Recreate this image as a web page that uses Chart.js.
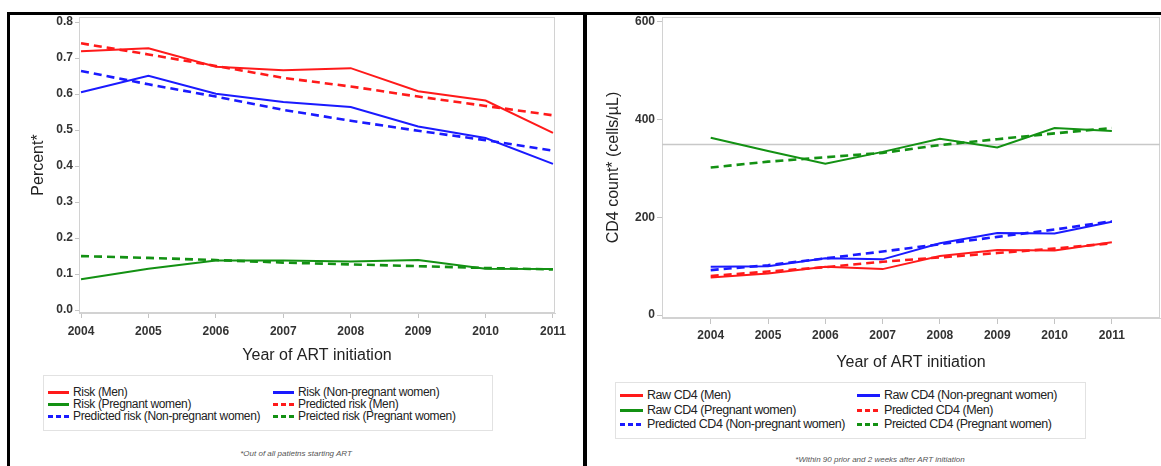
<!DOCTYPE html>
<html>
<head>
<meta charset="utf-8">
<title>ART initiation by year</title>
<script src="https://cdn.jsdelivr.net/npm/chart.js@4"></script>
<style>
body { margin: 0; background: #fff; font-family: "Liberation Sans", Arial, sans-serif; }
#page { position: relative; width: 1161px; height: 466px; overflow: hidden; background: #fff; }
.panel { position: absolute; top: 12px; height: 460px; border-top: 3px solid #000; box-sizing: border-box; }
#panelLeft { left: 7px; width: 578px; border-left: 3px solid #000; }
#panelRight { left: 583px; width: 578px; border-left: 4px solid #000; }
canvas { position: absolute; }
#riskChart { left: 10px; top: 15px; }
#cd4Chart { left: 588px; top: 15px; }
.legend { position: absolute; border: 1px solid #e2e2e2; box-sizing: border-box; color: #222; }
.legend .item { position: absolute; white-space: nowrap; line-height: 14px; }
.legend .swatch { position: absolute; top: 6px; height: 2.5px; }
.legend .label { position: absolute; top: 0; }
.note { position: absolute; font-size: 8px; font-style: italic; color: #555; white-space: nowrap; transform: translateX(-50%); }
</style>
</head>
<body>
<div id="page">
  <div class="panel" id="panelLeft"></div>
  <div class="panel" id="panelRight"></div>
  <canvas id="riskChart" width="575" height="355"></canvas>
  <canvas id="cd4Chart" width="573" height="360"></canvas>
  <div class="legend" id="riskLegend" style="left:43px; top:375px; width:450px; height:56px; font-size:12px; letter-spacing:-0.35px;"></div>
  <div class="legend" id="cd4Legend" style="left:615px; top:382px; width:471px; height:57px; font-size:12.5px; letter-spacing:-0.45px;"></div>
  <div class="note" style="left:296px; top:449px;">*Out of all patietns starting ART</div>
  <div class="note" style="left:880px; top:455px;">*Within 90 prior and 2 weeks after ART initiation</div>
</div>
<script>
// Data
const years = [2004, 2005, 2006, 2007, 2008, 2009, 2010, 2011];

const riskMen = [0.719, 0.727, 0.676, 0.666, 0.672, 0.608, 0.582, 0.492];
const riskNonPregnant = [0.605, 0.651, 0.601, 0.578, 0.564, 0.510, 0.478, 0.406];
const riskPregnant = [0.086, 0.115, 0.138, 0.138, 0.135, 0.139, 0.115, 0.114];
const predRiskMen = [0.741, 0.710, 0.678, 0.645, 0.621, 0.593, 0.567, 0.541];
const predRiskNonPregnant = [0.664, 0.627, 0.593, 0.556, 0.526, 0.498, 0.472, 0.443];
const predRiskPregnant = [0.150, 0.145, 0.139, 0.132, 0.127, 0.122, 0.117, 0.113];

const cd4Men = [77, 85, 99, 94, 121, 133, 132, 149];
const cd4NonPregnant = [99, 100, 116, 114, 147, 168, 167, 191];
const cd4Pregnant = [363, 336, 310, 334, 361, 343, 383, 377];
const predCd4Men = [80, 89, 98, 109, 118, 127, 136, 147];
const predCd4NonPregnant = [92, 102, 116, 130, 145, 160, 175, 192];
const predCd4Pregnant = [302, 314, 323, 332, 348, 360, 372, 383];

const percentTicks = [0, 0.1, 0.2, 0.3, 0.4, 0.5, 0.6, 0.7, 0.8];
const cd4Ticks = [0, 200, 400, 600];
const cd4Reference = 350;

const RED = '#ff1a1a';
const BLUE = '#1a1aff';
const GREEN = '#139113';
const FONT = '"Liberation Sans", Arial, sans-serif';

function toPoints(values) {
    return years.map((yr, i) => ({ x: yr, y: values[i] }));
}

function series(label, values, color, dashed) {
    return {
        label: label,
        data: toPoints(values),
        borderColor: color,
        backgroundColor: color,
        borderWidth: dashed ? 2.6 : 2,
        borderDash: dashed ? [8, 5] : [],
        pointRadius: 0,
        tension: 0,
        fill: false
    };
}

// Plot frame and optional reference line
const framePlugin = {
    id: 'frame',
    beforeDatasetsDraw(chart, args, opts) {
        const { ctx, chartArea: a } = chart;
        ctx.save();
        ctx.strokeStyle = '#d2d2d2';
        ctx.lineWidth = 1;
        ctx.strokeRect(a.left + 0.5, a.top + 0.5, a.width - 1, a.height - 1);
        if (opts.refValue != null) {
            const y = Math.round(chart.scales.y.getPixelForValue(opts.refValue)) + 0.5;
            ctx.strokeStyle = '#c8c8c8';
            ctx.lineWidth = 1.5;
            ctx.beginPath();
            ctx.moveTo(a.left, y);
            ctx.lineTo(a.right, y);
            ctx.stroke();
        }
        ctx.restore();
    }
};

function buildOptions(cfg) {
    return {
        responsive: false,
        animation: false,
        layout: { padding: cfg.padding },
        plugins: {
            legend: { display: false },
            tooltip: { enabled: false },
            frame: { refValue: cfg.refValue }
        },
        scales: {
            x: {
                type: 'linear',
                min: cfg.xMin,
                max: cfg.xMax,
                afterBuildTicks: s => { s.ticks = years.map(v => ({ value: v })); },
                afterFit: s => { s.height = 57; s.paddingLeft = 0; s.paddingRight = 0; },
                grid: { drawOnChartArea: false, tickLength: cfg.xTickLen, color: '#c4c4c4' },
                border: { color: '#d2d2d2' },
                ticks: {
                    padding: cfg.xTickPad,
                    color: '#333',
                    font: { family: FONT, size: 12, weight: 'bold' },
                    callback: v => String(v)
                },
                title: {
                    display: true,
                    text: 'Year of ART initiation',
                    color: '#222',
                    font: { family: FONT, size: 16 },
                    padding: { top: 0, bottom: cfg.xTitlePad }
                }
            },
            y: {
                min: cfg.yMin,
                max: cfg.yMax,
                afterBuildTicks: s => { s.ticks = cfg.yTicks.map(v => ({ value: v })); },
                afterFit: s => { s.width = cfg.yWidth; s.paddingTop = 0; s.paddingBottom = 0; },
                grid: { drawOnChartArea: false, tickLength: cfg.yTickLen, color: '#c4c4c4' },
                border: { color: '#d2d2d2' },
                ticks: {
                    padding: 2,
                    color: '#333',
                    font: { family: FONT, size: 12, weight: 'bold' },
                    callback: cfg.yFormat
                },
                title: {
                    display: true,
                    text: cfg.yTitle,
                    color: '#222',
                    font: { family: FONT, size: 16 },
                    padding: { top: cfg.yTitlePad, bottom: 0 }
                }
            }
        }
    };
}

function drawLegend(el, items, colX, textX, rowY) {
    items.forEach((it, i) => {
        const col = i % 2;
        const row = Math.floor(i / 2);
        const div = document.createElement('div');
        div.className = 'item';
        div.style.left = colX[col] + 'px';
        div.style.top = rowY[row] + 'px';
        const sw = document.createElement('div');
        sw.className = 'swatch';
        sw.style.left = '0px';
        sw.style.width = (textX - 4) + 'px';
        sw.style.background = it.dashed
            ? 'repeating-linear-gradient(to right, ' + it.color + ' 0 5px, transparent 5px 8px)'
            : it.color;
        const tx = document.createElement('div');
        tx.className = 'label';
        tx.style.left = textX + 'px';
        tx.textContent = it.label;
        div.appendChild(sw);
        div.appendChild(tx);
        el.appendChild(div);
    });
}

document.addEventListener('DOMContentLoaded', () => {
    const riskSeries = [
        { label: 'Risk (Men)', values: riskMen, color: RED, dashed: false },
        { label: 'Risk (Non-pregnant women)', values: riskNonPregnant, color: BLUE, dashed: false },
        { label: 'Risk (Pregnant women)', values: riskPregnant, color: GREEN, dashed: false },
        { label: 'Predicted risk (Men)', values: predRiskMen, color: RED, dashed: true },
        { label: 'Predicted risk (Non-pregnant women)', values: predRiskNonPregnant, color: BLUE, dashed: true },
        { label: 'Preicted risk (Pregnant women)', values: predRiskPregnant, color: GREEN, dashed: true }
    ];
    const cd4Series = [
        { label: 'Raw CD4 (Men)', values: cd4Men, color: RED, dashed: false },
        { label: 'Raw CD4 (Non-pregnant women)', values: cd4NonPregnant, color: BLUE, dashed: false },
        { label: 'Raw CD4 (Pregnant women)', values: cd4Pregnant, color: GREEN, dashed: false },
        { label: 'Predicted CD4 (Men)', values: predCd4Men, color: RED, dashed: true },
        { label: 'Predicted CD4 (Non-pregnant women)', values: predCd4NonPregnant, color: BLUE, dashed: true },
        { label: 'Preicted CD4 (Pregnant women)', values: predCd4Pregnant, color: GREEN, dashed: true }
    ];

    new Chart(document.getElementById('riskChart'), {
        type: 'line',
        data: { datasets: riskSeries.map(s => series(s.label, s.values, s.color, s.dashed)) },
        options: buildOptions({
            padding: { top: 2, right: 30, left: 0, bottom: 0 },
            xMin: 2003.97, xMax: 2011.03,
            yMin: -0.008, yMax: 0.814,
            yTicks: percentTicks,
            yFormat: v => Number(v).toFixed(1),
            yTitle: 'Percent*',
            yWidth: 69, yTickLen: 4, yTitlePad: 19,
            xTickLen: 5, xTickPad: 6, xTitlePad: 5
        }),
        plugins: [framePlugin]
    });

    new Chart(document.getElementById('cd4Chart'), {
        type: 'line',
        data: { datasets: cd4Series.map(s => series(s.label, s.values, s.color, s.dashed)) },
        options: buildOptions({
            padding: { top: 2, right: 1, left: 0, bottom: 0 },
            xMin: 2003.15, xMax: 2011.84,
            yMin: -6.1, yMax: 610.2,
            yTicks: cd4Ticks,
            yFormat: v => String(v),
            yTitle: 'CD4 count* (cells/\u00b5L)',
            yWidth: 74, yTickLen: 5, yTitlePad: 16,
            xTickLen: 6, xTickPad: 4, xTitlePad: 3,
            refValue: cd4Reference
        }),
        plugins: [framePlugin]
    });

    drawLegend(document.getElementById('riskLegend'), riskSeries, [4, 229], 25, [9, 21, 33]);
    drawLegend(document.getElementById('cd4Legend'), cd4Series, [4, 241], 27, [5, 20, 34]);
});
</script>
</body>
</html>
